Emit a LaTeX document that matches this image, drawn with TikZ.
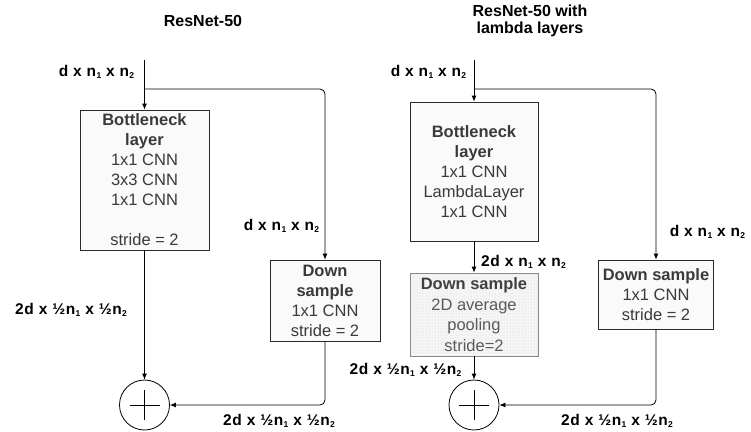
\documentclass[tikz,border=0pt]{standalone}
\usepackage{fontspec}
\setmainfont{Liberation Sans}
\newfontfamily\lblfont[LetterSpace=4]{Liberation Sans}
\usetikzlibrary{arrows.meta,patterns}
\definecolor{boxline}{HTML}{2A2A2A}
\definecolor{boxfill}{HTML}{FAFAFA}
\definecolor{boxtext}{HTML}{3A3A3A}
\definecolor{greyline}{HTML}{8A8A8A}
\definecolor{greytext}{HTML}{5A5A5A}
\newcommand\lowidx[1]{\raisebox{-0.25ex}{\fontsize{8.5}{8.5}\selectfont #1}}
\newcommand\nn[1]{n\kern0.3pt\lowidx{#1}}
\begin{document}
\begin{tikzpicture}[x=1pt,y=-1pt,
  box/.style={draw=boxline, fill=boxfill, line width=0.8pt, inner sep=0pt, align=center,
    font=\fontsize{16.5}{20}\selectfont, text=boxtext},
  greybox/.style={draw=greyline, line width=0.8pt, inner sep=0pt, align=center,
    preaction={fill=gray!7}, pattern=dots, pattern color=gray!40,
    font=\fontsize{16.5}{20.7}\selectfont, text=greytext},
  lbl/.style={font=\lblfont\bfseries\fontsize{15.5}{18}\selectfont, inner sep=0pt},
  ttl/.style={font=\bfseries\fontsize{16}{17.5}\selectfont, inner sep=0pt, align=center},
  arr/.style={-{Latex[length=6pt,width=5pt]}, line width=0.8pt},
  sumc/.style={circle, draw, line width=0.8pt, minimum size=50pt, inner sep=0pt}]
\useasboundingbox (0,0) rectangle (751,431);
% titles
\node[ttl] (t1) at (203,21) {ResNet-50};
\node[ttl] (t2) at (530,21) {ResNet-50 with\\lambda layers};
% ---------- left ----------
\coordinate (in1) at (144.5,60);
\coordinate (br1) at (144.5,89);
\node[box, minimum width=129pt, minimum height=140pt] (bn1) at (144.5,180)
  {\textbf{Bottleneck}\\\textbf{layer}\\1x1 CNN\\3x3 CNN\\1x1 CNN\\\mbox{}\\stride = 2};
\node[box, minimum width=110pt, minimum height=81pt] (ds1) at (325,300.5)
  {\textbf{Down}\\\textbf{sample}\\1x1 CNN\\stride = 2};
\node[sumc] (s1) at (144.5,405) {};
\draw[line width=0.8pt] ([xshift=-15pt]s1.center) -- ([xshift=15pt]s1.center);
\draw[line width=0.8pt] ([yshift=-15pt]s1.center) -- ([yshift=15pt]s1.center);
\draw[arr] (in1) -- (bn1.north);
\draw[arr, rounded corners=5pt] (br1) -| (ds1.north);
\draw[arr] (bn1.south) -- (s1.north);
\draw[arr, rounded corners=5pt] (ds1.south) |- (s1.east);
\node[lbl] (l1) at (96.5,72) {d x \nn1 x \nn2};
\node[lbl] (l2) at (281.5,226) {d x \nn1 x \nn2};
\node[lbl] (l3) at (71,310) {2d x ½\nn1 x ½\nn2};
\node[lbl] (l4) at (279,421) {2d x ½\nn1 x ½\nn2};
% ---------- right ----------
\coordinate (in2) at (474,60);
\coordinate (br2) at (474,89);
\node[box, minimum width=128pt, minimum height=139pt] (bn2) at (474,171.5)
  {\textbf{Bottleneck}\\\textbf{layer}\\1x1 CNN\\LambdaLayer\\1x1 CNN};
\node[greybox, minimum width=128pt, minimum height=83pt] (gs) at (474,314.5)
  {\textcolor{black!75}{\textbf{Down sample}}\\2D average\\pooling\\stride=2};
\node[box, minimum width=115pt, minimum height=69pt] (ds2) at (656,294.5)
  {\textbf{Down sample}\\1x1 CNN\\stride = 2};
\node[sumc] (s2) at (474,405) {};
\draw[line width=0.8pt] ([xshift=-15pt]s2.center) -- ([xshift=15pt]s2.center);
\draw[line width=0.8pt] ([yshift=-15pt]s2.center) -- ([yshift=15pt]s2.center);
\draw[arr] (in2) -- (bn2.north);
\draw[arr, rounded corners=5pt] (br2) -| (ds2.north);
\draw[arr] (bn2.south) -- (gs.north);
\draw[arr] (gs.south) -- (s2.north);
\draw[arr, rounded corners=5pt] (ds2.south) |- (s2.east);
\node[lbl] (r1) at (428.5,72) {d x \nn1 x \nn2};
\node[lbl] (r2) at (523.5,262) {2d x \nn1 x \nn2};
\node[lbl] (r3) at (405.5,370) {2d x ½\nn1 x ½\nn2};
\node[lbl] (r4) at (707.5,232) {d x \nn1 x \nn2};
\node[lbl] (r5) at (617,421) {2d x ½\nn1 x ½\nn2};
\end{tikzpicture}
\end{document}
